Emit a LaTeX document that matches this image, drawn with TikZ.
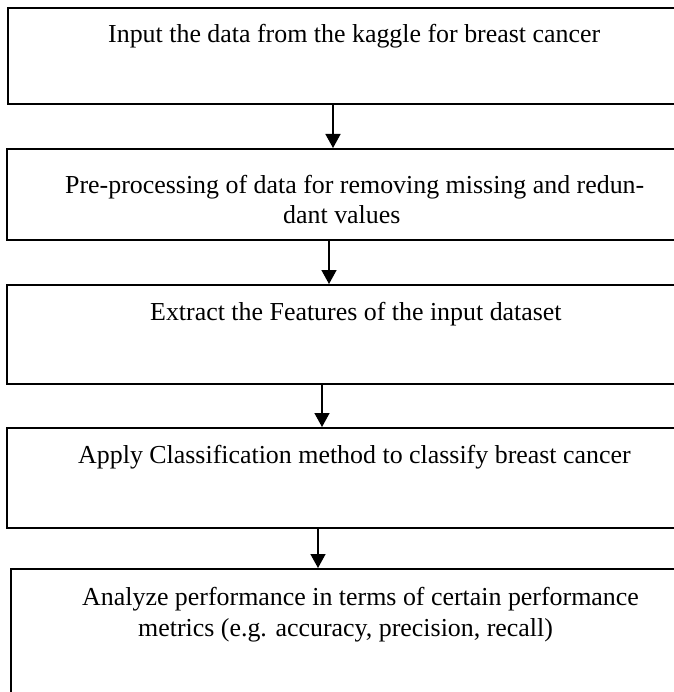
\documentclass[tikz,border=0pt]{standalone}
\usepackage{fontspec}
\setmainfont{Liberation Serif}
\usetikzlibrary{arrows.meta}
\begin{document}
\begin{tikzpicture}[x=1bp,y=-1bp,
  box/.style={draw=black,line width=1.6bp,minimum height=#1,inner sep=0pt,anchor=north west,minimum width=700bp},
  txt/.style={inner sep=0pt,anchor=base west,font=\fontsize{26}{30}\selectfont},
  arr/.style={line width=1.5bp,-{Triangle[width=15bp,length=14bp]}}]
\useasboundingbox (0,0) rectangle (674,692);
\clip (0,0) rectangle (674,692);
\node[box=96bp] (b1) at (7,7) {};
\node[box=91bp] (b2) at (6,148) {};
\node[box=99bp] (b3) at (6,284) {};
\node[box=100bp] (b4) at (6,427) {};
\node[box=160bp] (b5) at (10,568) {};
\node[txt] (t1) at (108,43) {Input the data from the kaggle for breast cancer};
\node[txt] (t2a) at (65,193) {Pre-processing of data for removing missing and redun-};
\node[txt] (t2b) at (283,223) {dant values};
\node[txt] (t3) at (150,320) {Extract the Features of the input dataset};
\node[txt] (t4) at (78,463) {Apply Classification method to classify breast cancer};
\node[txt] (t5a) at (82,605) {Analyze performance in terms of certain performance};
\node[txt] (t5b) at (138,636) {metrics (e.g. accuracy, precision, recall)};
\draw[arr] (b1.south -| 333,0) -- (b2.north -| 333,0);
\draw[arr] (b2.south -| 329,0) -- (b3.north -| 329,0);
\draw[arr] (b3.south -| 322,0) -- (b4.north -| 322,0);
\draw[arr] (b4.south -| 318,0) -- (b5.north -| 318,0);
\end{tikzpicture}
\end{document}
